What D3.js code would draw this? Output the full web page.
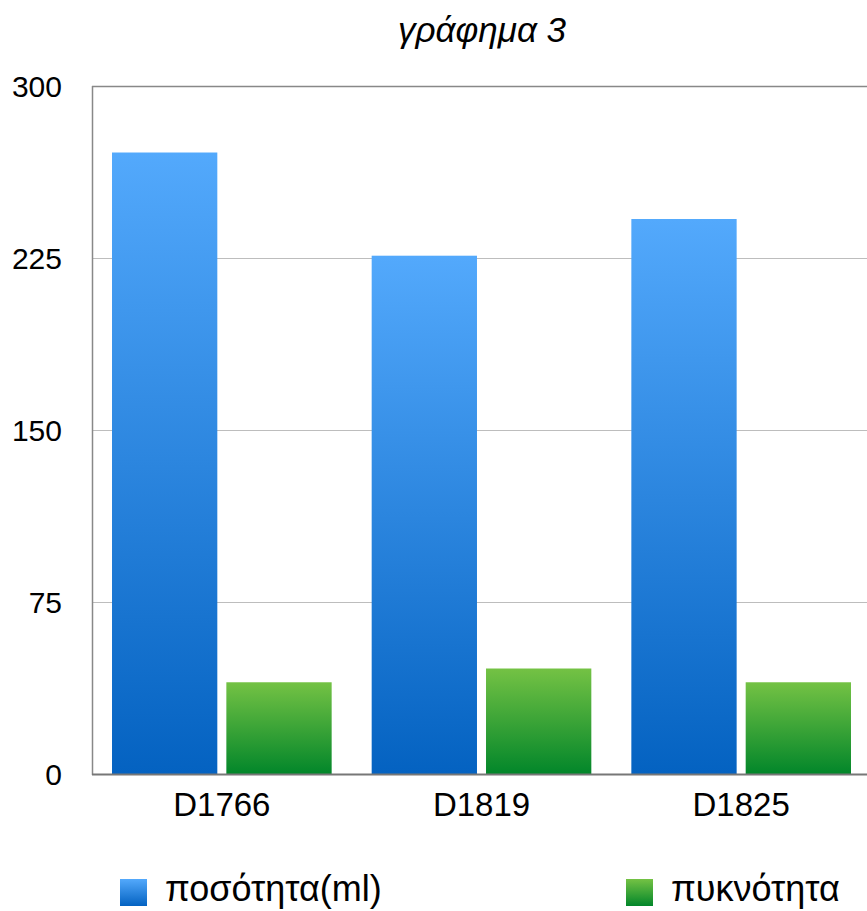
<!DOCTYPE html>
<html>
<head>
<meta charset="utf-8">
<script src="https://cdn.jsdelivr.net/npm/d3@7"></script>
<style>
  html, body { margin: 0; padding: 0; background: #fff; }
  svg { display: block; }
  text { font-family: "Liberation Sans", Arial, Helvetica, sans-serif; fill: #000; }
</style>
</head>
<body>
<svg id="chart" width="867" height="911"></svg>
<script>
const title = "γράφημα 3";
const categories = ["D1766", "D1819", "D1825"];
const seriesNames = ["ποσότητα(ml)", "πυκνότητα"];
const quantity = [271, 226, 242];
const density = [40, 46, 40];
const yTicks = [0, 75, 150, 225, 300];

const svg = d3.select("#chart");
const W = 867, H = 911;
const m = { left: 92, right: -4, top: 86, bottom: 137 };
const plotRight = W - m.right;
const plotBottom = H - m.bottom;

const defs = svg.append("defs");
function grad(id, top, bottom) {
  const g = defs.append("linearGradient").attr("id", id)
    .attr("x1", 0).attr("y1", 0).attr("x2", 0).attr("y2", 1);
  g.append("stop").attr("offset", "0%").attr("stop-color", top);
  g.append("stop").attr("offset", "100%").attr("stop-color", bottom);
}
grad("gBlue", "#53A9FC", "#0462C1");
grad("gGreen", "#74C244", "#02862A");
const fills = ["url(#gBlue)", "url(#gGreen)"];

const x = d3.scaleBand().domain(categories).range([m.left, plotRight]).paddingInner(0).paddingOuter(0);
const xs = d3.scaleBand().domain(seriesNames).range([0, x.bandwidth()]).paddingInner(0.079).paddingOuter(0.175);
const y = d3.scaleLinear().domain([0, 300]).range([plotBottom, m.top]);

// gridlines
svg.append("g").selectAll("line").data(yTicks.filter(t => t > 0 && t < 300)).join("line")
  .attr("x1", m.left).attr("x2", W)
  .attr("y1", d => Math.round(y(d)) + 0.5).attr("y2", d => Math.round(y(d)) + 0.5)
  .attr("stroke", "#bdbdbd").attr("stroke-width", 1.2);
// top line
svg.append("line").attr("x1", m.left).attr("x2", W)
  .attr("y1", Math.round(y(300)) + 0.5).attr("y2", Math.round(y(300)) + 0.5)
  .attr("stroke", "#888").attr("stroke-width", 1.5);

// bars
const data = categories.map((c, i) => ({ c, vals: [quantity[i], density[i]] }));
const groups = svg.append("g").selectAll("g").data(data).join("g")
  .attr("transform", d => `translate(${x(d.c)},0)`);
groups.selectAll("rect").data(d => d.vals.map((v, j) => ({ v, j }))).join("rect")
  .attr("x", d => xs(seriesNames[d.j]))
  .attr("width", xs.bandwidth())
  .attr("y", d => y(d.v))
  .attr("height", d => y(0) - y(d.v))
  .attr("fill", d => fills[d.j]);

// axes lines
svg.append("line").attr("x1", m.left + 0.5).attr("x2", m.left + 0.5)
  .attr("y1", y(300)).attr("y2", y(0) + 1)
  .attr("stroke", "#888").attr("stroke-width", 1.5);
svg.append("line").attr("x1", m.left).attr("x2", W)
  .attr("y1", y(0) + 0.5).attr("y2", y(0) + 0.5)
  .attr("stroke", "#777").attr("stroke-width", 1.8);

// y labels
const yAxis = d3.axisLeft(y).tickValues(yTicks).tickSize(0).tickPadding(0).tickFormat(d3.format("d"));
const ya = svg.append("g").attr("transform", `translate(62,0)`).call(yAxis);
ya.select(".domain").remove();
ya.selectAll("text").attr("font-size", 30).attr("font-family", "Liberation Sans, Arial, sans-serif")
  .attr("fill", "#000").attr("text-anchor", "end").attr("dy", "0.36em");

// x labels
const xAxis = d3.axisBottom(x).tickSize(0).tickPadding(0);
const xa = svg.append("g").attr("transform", `translate(0,${plotBottom})`).call(xAxis);
xa.select(".domain").remove();
xa.selectAll("text").attr("font-size", 33).attr("font-family", "Liberation Sans, Arial, sans-serif")
  .attr("fill", "#000").attr("y", 42).attr("dy", "0");

// title
svg.append("text").attr("x", 482).attr("y", 42).attr("text-anchor", "middle")
  .attr("font-size", 35).attr("font-style", "italic").text(title);

// legend
const legendX = [120, 626];
const leg = svg.append("g").selectAll("g").data(seriesNames).join("g")
  .attr("transform", (d, i) => `translate(${legendX[i]},879)`);
leg.append("rect").attr("width", 27).attr("height", 27).attr("fill", (d, i) => fills[i]);
leg.append("text").attr("x", 45).attr("y", 22).attr("font-size", 36).text(d => d);
</script>
</body>
</html>
